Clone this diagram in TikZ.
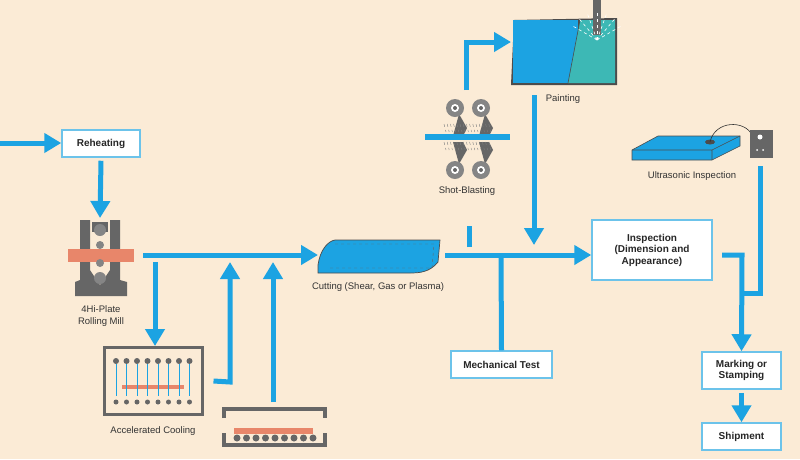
\documentclass[tikz,border=0pt]{standalone}
\usepackage{fontspec}
\setmainfont{Liberation Sans}
\usetikzlibrary{arrows.meta}
\definecolor{bg}{HTML}{FBEBD6}
\definecolor{fb}{HTML}{1CA3E2}
\definecolor{bd}{HTML}{6CC3EA}
\definecolor{steel}{HTML}{666666}
\definecolor{cu}{HTML}{E8866A}
\definecolor{teal}{HTML}{3DB8B5}
\tikzset{
 flow/.style={draw=fb,line width=5pt,-{Triangle[length=17pt,width=19pt]}},
 line/.style={draw=fb,line width=5pt},
 box/.style={draw=bd,line width=1.5pt,fill=white,font=\bfseries\fontsize{10}{11.5}\selectfont,align=center,inner sep=0pt,text=black!85},
 lbl/.style={font=\fontsize{9.5}{11.5}\selectfont,text=black!80,align=center}
}
\begin{document}
\begin{tikzpicture}[x=1pt,y=-1pt]
\fill[bg] (0,0) rectangle (800,459);
\useasboundingbox (0,0) rectangle (800,459);
% boxes
\node[box,minimum width=78pt,minimum height=27pt] (reh) at (101,143.5) {Reheating};
\node[box,minimum width=101pt,minimum height=27pt] (mech) at (501.5,364.5) {Mechanical Test};
\node[box,minimum width=120pt,minimum height=60pt] (insp) at (652,250) {Inspection\\(Dimension and\\Appearance)};
\node[box,minimum width=79pt,minimum height=37pt] (mark) at (741.5,370.5) {Marking or\\Stamping};
\node[box,minimum width=79pt,minimum height=27pt] (ship) at (741.5,436.5) {Shipment};
% rolling mill
\fill[steel] (80,220)--(90,220)--(90,270)--(100,285)--(110,270)--(110,220)--(120,220)--(120,280)--(127,282)--(127,296)--(75,296)--(75,282)--(80,280)--cycle;
\fill[steel] (92,222) rectangle (108,232);
\fill[cu] (68,249) rectangle (134,262);
\foreach \yy/\r in {230/6,245/4,263/4,278/6}{\fill[steel!80] (100,\yy) circle (\r);}
\node[lbl] (mill) at (101,316) {4Hi-Plate\\Rolling Mill};
% accelerated cooling
\node[draw=steel,line width=3pt,minimum width=98pt,minimum height=67pt,fill=bg] (cool) at (153,381) {};
\fill[cu] (122,385) rectangle (184,389);
\foreach \i in {0,...,7}{
  \fill[steel] (116+10.5*\i,361) circle (3);
  \draw[fb,line width=0.8pt] (116+10.5*\i,364)--(116+10.5*\i,396);
  \fill[steel] (116+10.5*\i,402) circle (2.5);}
\node[lbl] (cooll) at (153,431) {Accelerated Cooling};
% heat treatment
\draw[steel,line width=4pt] (224,418)--(224,409)--(325,409)--(325,418);
\draw[steel,line width=4pt] (224,433)--(224,445)--(325,445)--(325,433);
\fill[cu] (234,428) rectangle (313,434);
\foreach \i in {0,...,8}{\fill[steel] (237+9.5*\i,438) circle (3.5);}
\coordinate (heat) at (273,402);
% cutting plate
\filldraw[fill=fb,draw=black!70,line width=0.7pt] (335,240)--(440,240)--(438,262) .. controls (430,272) and (420,273) .. (410,273)--(318,273)--(318,265) .. controls (320,250) and (328,241) .. (335,240)--cycle;
\draw[black!60,dashed,line width=0.4pt] (335,244)--(434,244)--(432,268)--(330,268);
\node[lbl] (cutl) at (378,287) {Cutting (Shear, Gas or Plasma)};
\coordinate (cut) at (318,255);
% shot blasting
\foreach \xx in {455,481}{
 \foreach \yy/\s in {108/1,170/-1}{
  \fill[steel] (\xx+4,\yy+\s*6) -- (\xx+12,\yy+\s*20)--(\xx+8,\yy+\s*28)--(\xx-2,\yy+\s*28)--cycle;
  \fill[steel!80] (\xx,\yy) circle (9); \fill[white] (\xx,\yy) circle (4); \fill[steel] (\xx,\yy) circle (2);}}
\fill[fb] (425,134) rectangle (510,140);
\foreach \i in {0,...,14}{\draw[black!50,line width=0.4pt,dashed] (444+3.2*\i,124)--(446+3.2*\i,132) (444+3.2*\i,142)--(446+3.2*\i,150);}
\node[lbl] (shotl) at (467,191) {Shot-Blasting};
% painting
\fill[black!70] (514,20)--(617,18)--(617,85)--(511,85)--cycle;
\fill[fb] (513,20) rectangle (578,83);
\fill[teal] (580,20)--(615,20)--(615,83)--(568,83)--cycle;
\draw[black!70,line width=0.6pt] (580,20)--(568,83);
\fill[steel] (593,0) rectangle (601,35);
\foreach \a in {-60,-40,-20,0,20,40,60}{\draw[white,dashed,line width=0.6pt] (597,40)--++(\a-90:28);}
\node[lbl] (paintl) at (563,99) {Painting};
% ultrasonic
\filldraw[fill=fb,draw=black!70,line width=0.6pt] (632,150)--(658,136)--(740,136)--(740,146)--(712,160)--(632,160)--cycle;
\draw[black!70,line width=0.6pt] (632,150)--(712,150)--(740,136) (712,150)--(712,160);
\fill[black!70] (710,142) ellipse (5 and 2.5);
\draw[black!80,line width=0.6pt] (710,142) .. controls (715,120) and (745,120) .. (752,135);
\fill[steel] (750,130) rectangle (773,158);
\fill[white] (760,137) circle (2.5);
\fill[white] (757,150) circle (1) (763,150) circle (1);
\node[lbl] (ultl) at (692,176) {Ultrasonic Inspection};
% connectors
\coordinate (start) at (0,143);
\draw[flow] (start) -- (reh.west |- start);
\draw[flow] ([yshift=-3pt]reh.south) -- (100,218);
\coordinate (mo) at (143,255);
\draw[flow] (mo) -- (cut);
\draw[flow] (155,262) -- (cool.north -| 155,0);
\draw[flow] ([xshift=10pt]cool.east) -- (230,382) -- (230,262);
\draw[flow] (heat) -- (273,262);
\coordinate (co) at (445,255);
\draw[flow] (co) -- (insp.west |- co);
\draw[line] (501,255) -- (mech.north);
\draw[line] (469,247) -- (469,226);
\draw[flow] (466,90) -- (466,42) -- (511,42);
\draw[flow] (534,95) -- (534,245);
\draw[line] (760,166) -- (760,293) -- (744,293);
\coordinate (ie) at (722,255);
\draw[flow] (ie) -- (742,255) -- (mark.north);
\draw[flow] ([yshift=-3pt]mark.south) -- (ship.north);
\end{tikzpicture}
\end{document}
